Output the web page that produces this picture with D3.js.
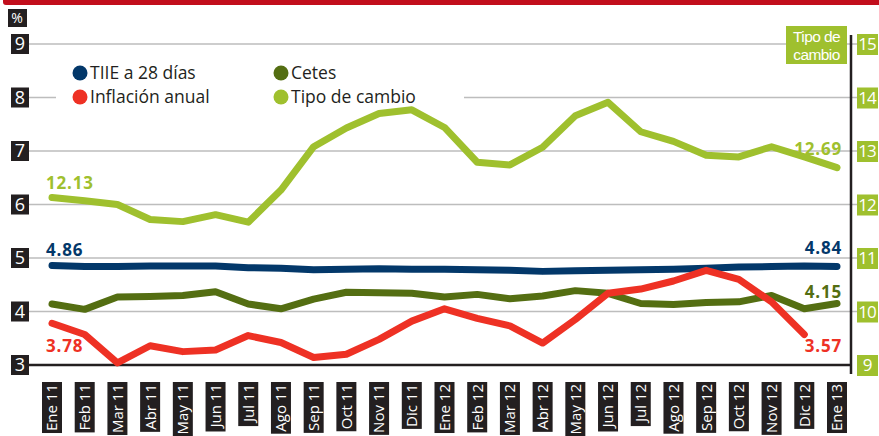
<!DOCTYPE html>
<html>
<head>
<meta charset="utf-8">
<script src="https://cdn.jsdelivr.net/npm/d3@7"></script>
<style>
  body { margin: 0; background: #fff; }
  svg { display: block; font-family: "Open Sans", "Noto Sans", sans-serif; }
</style>
</head>
<body>
<svg id="drawing_region"></svg>
<script>
// data
const months = ["Ene 11","Feb 11","Mar 11","Abr 11","May 11","Jun 11","Jul 11","Ago 11","Sep 11","Oct 11","Nov 11","Dic 11",
                "Ene 12","Feb 12","Mar 12","Abr 12","May 12","Jun 12","Jul 12","Ago 12","Sep 12","Oct 12","Nov 12","Dic 12","Ene 13"];
const tiie      = [4.86,4.84,4.84,4.85,4.85,4.85,4.82,4.81,4.78,4.79,4.80,4.79,4.79,4.78,4.77,4.75,4.76,4.77,4.78,4.79,4.81,4.83,4.84,4.85,4.84];
const cetes     = [4.14,4.04,4.27,4.28,4.30,4.37,4.14,4.05,4.23,4.36,4.35,4.34,4.27,4.32,4.24,4.29,4.39,4.34,4.15,4.13,4.17,4.18,4.30,4.05,4.15];
const inflacion = [3.78,3.57,3.04,3.36,3.25,3.28,3.55,3.42,3.14,3.20,3.48,3.82,4.05,3.87,3.73,3.41,3.85,4.34,4.42,4.57,4.77,4.60,4.18,3.57];
const tipoCambio= [12.13,12.07,12.00,11.72,11.68,11.81,11.67,12.27,13.08,13.43,13.70,13.77,13.44,12.79,12.74,13.07,13.66,13.91,13.36,13.18,12.92,12.89,13.08,12.89,12.69];
const leftTicks  = [3,4,5,6,7,8,9];
const rightTicks = [9,10,11,12,13,14,15];

const W = 879, H = 436;
const col = { tiie: "#03386a", cetes: "#546e12", infl: "#ee3124", tipo: "#9fc02e" };

const svg = d3.select("#drawing_region").attr("width", W).attr("height", H);

// top red band
svg.append("rect").attr("x", 3).attr("y", -4).attr("width", W).attr("height", 9).attr("rx", 3).attr("fill", "#c20e1c");

const x  = d3.scalePoint().domain(months).range([52, 837]);
const yL = d3.scaleLinear().domain([3, 9]).range([365, 44]);
const yR = d3.scaleLinear().domain([9, 15]).range([365, 44]);
const plotLeft = 29, plotRight = 851;

// grid
svg.append("g").selectAll("line").data(leftTicks.filter(t => t > 3)).join("line")
  .attr("x1", plotLeft).attr("x2", 857)
  .attr("y1", d => yL(d)).attr("y2", d => yL(d))
  .attr("stroke", "#bdbdbd").attr("stroke-width", 1.5);

// axes lines
svg.append("line").attr("x1", plotLeft).attr("x2", plotRight).attr("y1", yL(3)).attr("y2", yL(3))
  .attr("stroke", "#231f20").attr("stroke-width", 2.5);
svg.append("line").attr("x1", plotRight).attr("x2", plotRight).attr("y1", 35).attr("y2", 374)
  .attr("stroke", "#231f20").attr("stroke-width", 2.5);

// left tick labels
const lt = svg.append("g").selectAll("g").data(leftTicks).join("g")
  .attr("transform", d => `translate(20,${yL(d)})`);
lt.append("rect").attr("x", -9).attr("y", -10).attr("width", 18).attr("height", 20).attr("fill", "#231f20");
lt.append("text").attr("text-anchor", "middle").attr("dy", "0.36em").attr("fill", "#fff")
  .attr("font-size", 18).text(d => d);

const pct = svg.append("g").attr("transform", "translate(17,18)");
pct.append("rect").attr("x", -9).attr("y", -9).attr("width", 19).attr("height", 18).attr("fill", "#231f20");
pct.append("text").attr("text-anchor", "middle").attr("dy", "0.36em").attr("fill", "#fff")
  .attr("font-size", 14).text("%");

// right tick labels
const rt = svg.append("g").selectAll("g").data(rightTicks).join("g")
  .attr("transform", d => `translate(867,${yR(d)})`);
rt.append("rect").attr("x", -10).attr("y", -10).attr("width", 21).attr("height", 21).attr("fill", col.tipo);
rt.append("text").attr("text-anchor", "middle").attr("dy", "0.36em").attr("fill", "#fff")
  .attr("font-size", 17).attr("letter-spacing", -1).text(d => d);

const tc = svg.append("g");
tc.append("rect").attr("x", 786).attr("y", 26).attr("width", 61).attr("height", 38).attr("fill", col.tipo);
const tcText = tc.append("text").attr("text-anchor", "middle").attr("fill", "#fff")
  .attr("font-family", "'Liberation Sans', Arial, sans-serif")
  .attr("font-size", 15.5).attr("letter-spacing", -0.6);
tcText.append("tspan").attr("x", 816.5).attr("y", 42).text("Tipo de");
tcText.append("tspan").attr("x", 816.5).attr("y", 59.5).text("cambio");

// x labels
const xl = svg.append("g").selectAll("g").data(months).join("g")
  .attr("transform", d => `translate(${x(d)},382) rotate(-90)`);
xl.append("text").attr("text-anchor", "end").attr("x", -2).attr("dy", "0.36em")
  .attr("fill", "#fff").attr("font-size", 15).text(d => d)
  .each(function() {
    const b = this.getBBox();
    d3.select(this.parentNode).insert("rect", "text")
      .attr("x", b.x - 2).attr("y", -10).attr("width", b.width + 4).attr("height", 20)
      .attr("fill", "#231f20");
  });

// legend
const leg = svg.append("g");
leg.append("rect").attr("x", 56).attr("y", 60).attr("width", 408).attr("height", 52).attr("fill", "#fff");
const legItems = [
  { name: "TIIE a 28 días", c: col.tiie, lx: 80, ly: 73 },
  { name: "Inflación anual", c: col.infl, lx: 80, ly: 97 },
  { name: "Cetes", c: col.cetes, lx: 281, ly: 73 },
  { name: "Tipo de cambio", c: col.tipo, lx: 281, ly: 97 }
];
legItems.forEach(d => {
  leg.append("circle").attr("cx", d.lx).attr("cy", d.ly).attr("r", 7.5).attr("fill", d.c);
  leg.append("text").attr("x", d.lx + 10).attr("y", d.ly).attr("dy", "0.36em")
    .attr("font-size", 17.5).attr("fill", "#231f20").text(d.name);
});

// lines
const lineL = d3.line().x((d, i) => x(months[i])).y(d => yL(d));
const lineR = d3.line().x((d, i) => x(months[i])).y(d => yR(d));
const series = [
  { v: tipoCambio, c: col.tipo, gen: lineR },
  { v: tiie, c: col.tiie, gen: lineL },
  { v: cetes, c: col.cetes, gen: lineL },
  { v: inflacion, c: col.infl, gen: lineL }
];
svg.append("g").selectAll("path").data(series).join("path")
  .attr("d", d => d.gen(d.v))
  .attr("fill", "none").attr("stroke", d => d.c).attr("stroke-width", 7)
  .attr("stroke-linejoin", "round").attr("stroke-linecap", "round");

// value labels
const valLabels = [
  { t: "12.13", c: col.tipo, x: 46, y: 189, a: "start" },
  { t: "4.86", c: col.tiie, x: 46, y: 256, a: "start" },
  { t: "3.78", c: col.infl, x: 46, y: 352, a: "start" },
  { t: "12.69", c: col.tipo, x: 842, y: 155, a: "end" },
  { t: "4.84", c: col.tiie, x: 842, y: 254, a: "end" },
  { t: "4.15", c: col.cetes, x: 842, y: 298, a: "end" },
  { t: "3.57", c: col.infl, x: 842, y: 352, a: "end" }
];
svg.append("g").selectAll("text").data(valLabels).join("text")
  .attr("x", d => d.x).attr("y", d => d.y).attr("text-anchor", d => d.a)
  .attr("fill", d => d.c).attr("font-size", 17).attr("font-weight", "bold")
  .attr("letter-spacing", 0.8).text(d => d.t);
</script>
</body>
</html>
